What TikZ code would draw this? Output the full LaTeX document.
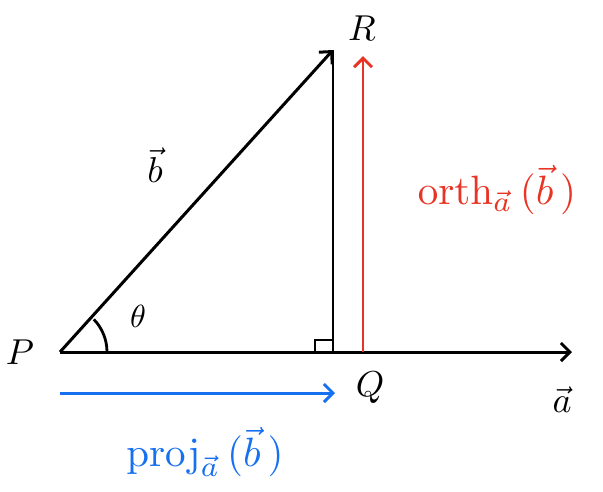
\documentclass[tikz,border=0pt]{standalone}
\usepackage{graphicx}
\usetikzlibrary{arrows.meta,calc}
\definecolor{myred}{RGB}{232,52,36}
\definecolor{myblue}{RGB}{22,112,240}
\newcommand{\bigtx}[1]{\scalebox{3.6}{#1}}
\newcommand{\widetx}[1]{\scalebox{4.1}{#1}}
\newcommand{\midtx}[1]{\scalebox{3.2}{#1}}
\begin{document}
\begin{tikzpicture}[x=1pt,y=-1pt,
  vec/.style={line width=3pt,-{Straight Barb[length=9pt,width=18pt,line width=3pt]}},
  seg/.style={line width=2.8pt},
  lab/.style={inner sep=0pt}]
\useasboundingbox (0,0) rectangle (603,491);
\coordinate (p) at (60,352);
\coordinate (top) at (333,50);
\coordinate (foot) at (333,352);
\coordinate (aend) at (572,352);
\coordinate (rfoot) at (363,352);
\coordinate (rtop) at (363,56);
\coordinate (bs) at (60,393);
\coordinate (be) at (335,393);
% lines
\draw[vec] (p) -- (aend);
\draw[vec] (p) -- (top);
\draw[seg] (top) -- (foot);
\draw[seg,line width=2.4pt] (315,352) -- (315,340) -- (333,340);
\draw[seg] ($(p)+(47,0)$) arc[start angle=0,end angle=-44,radius=47];
\draw[vec,myred,line width=2.4pt] (rfoot) -- (rtop);
\draw[vec,myblue] (bs) -- (be);
% labels
\node[lab] (P) at (20,352) {\bigtx{$P$}};
\node[lab] (R) at (362,28) {\bigtx{$R$}};
\node[lab] (Q) at (370,388) {\bigtx{$Q$}};
\node[lab] (A) at (562,400) {\bigtx{$\vec{a}$}};
\node[lab] (B) at (155,165) {\bigtx{$\vec{b}$}};
\node[lab] (T) at (138,316) {\midtx{$\theta$}};
\node[lab,text=myred] (O) at (497,190) {\widetx{$\mathrm{orth}_{\vec{a}}\,(\vec{b}\,)$}};
\node[lab,text=myblue] (J) at (205,452) {\widetx{$\mathrm{proj}_{\vec{a}}\,(\vec{b}\,)$}};
\end{tikzpicture}
\end{document}
